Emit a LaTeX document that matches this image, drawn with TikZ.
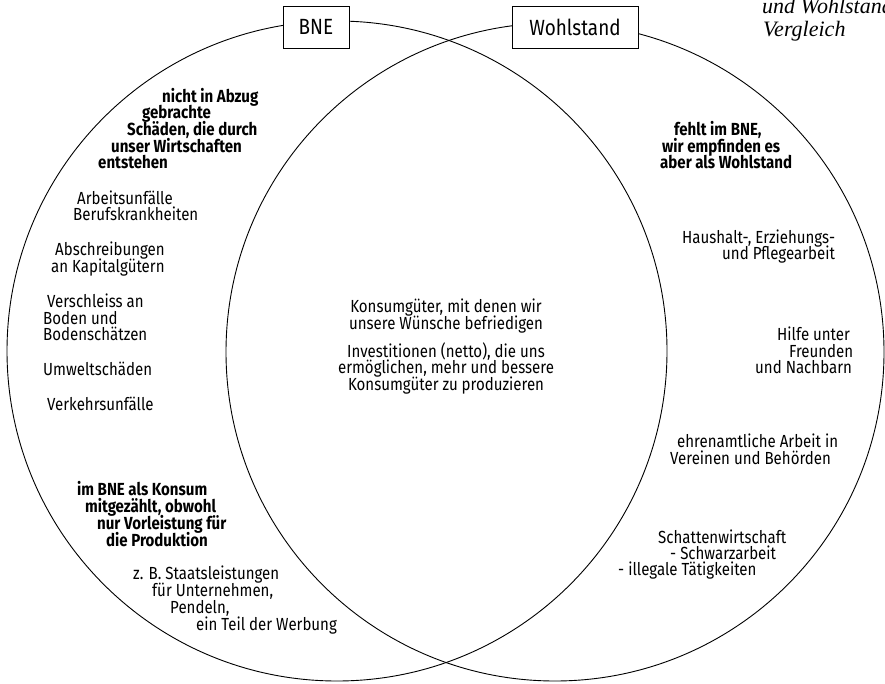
\documentclass[tikz,border=0pt]{standalone}
\usepackage{fontspec}
\setmainfont{Fira Sans}[FakeStretch=0.86]
\newfontfamily\serifit{Liberation Serif}
\begin{document}
\begin{tikzpicture}[x=1pt,y=-1pt,
  ring/.style={circle,draw,line width=0.9pt,inner sep=0pt},
  lbl/.style={draw,line width=0.8pt,fill=white,inner sep=0pt,minimum height=42pt,font=\fontsize{22}{24}\selectfont},
  t/.style={anchor=mid west,inner sep=0pt,font=\fontsize{17.5}{18}\selectfont},
  tb/.style={anchor=mid west,inner sep=0pt,font=\fontsize{17.5}{18}\selectfont\bfseries},
  tc/.style={anchor=mid,inner sep=0pt,font=\fontsize{17.5}{18}\selectfont},
  it/.style={anchor=base west,inner sep=0pt,font=\fontsize{22}{24}\serifit\itshape}]
\useasboundingbox (0,0) rectangle (885,684);
\clip (0,0) rectangle (885,684);
\node[ring,minimum size=660pt] (cbne) at (337,351) {};
\node[ring,minimum size=658pt] (cwohl) at (555,352) {};
\node[lbl,minimum width=66pt] (bne) at (316,27) {BNE};
\node[lbl,minimum width=126pt] (wohl) at (575,27) {Wohlstand};
\node[it] (ti1) at (762,14) {und Wohlstand};
\node[it] (ti2) at (763,37) {Vergleich};
% left top
\node[tb] (a1) at (162,100) {nicht in Abzug};
\node[tb] (a2) at (142,116) {gebrachte};
\node[tb] (a3) at (127,133) {Schäden, die durch};
\node[tb] (a4) at (111,150) {unser Wirtschaften};
\node[tb] (a5) at (98,166) {entstehen};
\node[t] (b1) at (77,202) {Arbeitsunfälle};
\node[t] (b2) at (73,218) {Berufskrankheiten};
\node[t] (b3) at (55,253) {Abschreibungen};
\node[t] (b4) at (51,270) {an Kapitalgütern};
\node[t] (b5) at (47,305) {Verschleiss an};
\node[t] (b6) at (43,322) {Boden und};
\node[t] (b7) at (43,338) {Bodenschätzen};
\node[t] (b8) at (43,373) {Umweltschäden};
\node[t] (b9) at (47,408) {Verkehrsunfälle};
% left bottom
\node[tb] (c1) at (77,493) {im BNE als Konsum};
\node[tb] (c2) at (85,510) {mitgezählt, obwohl};
\node[tb] (c3) at (97,527) {nur Vorleistung für};
\node[tb] (c4) at (106,544) {die Produktion};
\node[t] (d1) at (133,577) {z. B. Staatsleistungen};
\node[t] (d2) at (152,594) {für Unternehmen,};
\node[t] (d3) at (170,611) {Pendeln,};
\node[t] (d4) at (196,628) {ein Teil der Werbung};
% center
\node[tc] (m1) at (446,310) {Konsumgüter, mit denen wir};
\node[tc] (m2) at (446,327) {unsere Wünsche befriedigen};
\node[tc] (m3) at (446,355) {Investitionen (netto), die uns};
\node[tc] (m4) at (446,371) {ermöglichen, mehr und bessere};
\node[tc] (m5) at (446,388) {Konsumgüter zu produzieren};
% right
\node[tb] (e1) at (674,133) {fehlt im BNE,};
\node[tb] (e2) at (662,150) {wir empfinden es};
\node[tb] (e3) at (660,166) {aber als Wohlstand};
\node[t] (f1) at (682,241) {Haushalt-, Erziehungs-};
\node[t] (f2) at (722,257) {und Pflegearbeit};
\node[t] (f3) at (777,338) {Hilfe unter};
\node[t] (f4) at (789,355) {Freunden};
\node[t] (f5) at (755,371) {und Nachbarn};
\node[t] (f6) at (677,445) {ehrenamtliche Arbeit in};
\node[t] (f7) at (670,462) {Vereinen und Behörden};
\node[t] (f8) at (658,541) {Schattenwirtschaft};
\node[t] (f9) at (670,557) {- Schwarzarbeit};
\node[t] (f10) at (618,573) {- illegale Tätigkeiten};
\end{tikzpicture}
\end{document}
